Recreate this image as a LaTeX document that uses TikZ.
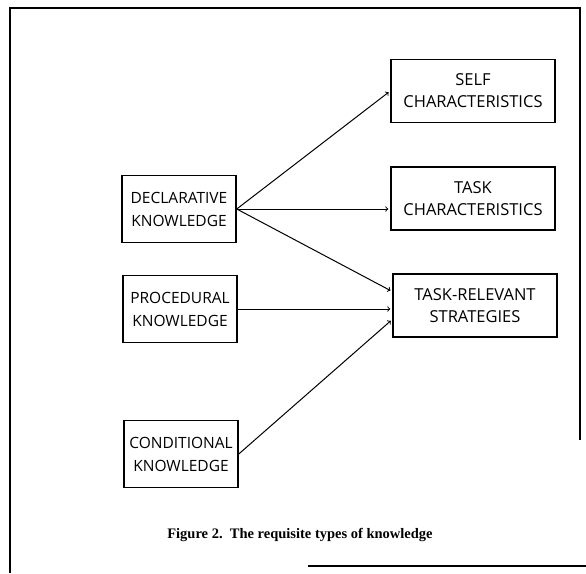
\documentclass[tikz,border=0pt]{standalone}
\usepackage{fontspec}
\setmainfont{Liberation Serif}
\newfontfamily\boxfont{Open Sans}
\usepackage{tikz}
\usetikzlibrary{shapes,arrows}
\tikzstyle{block} = [rectangle, draw, line width=1.5pt, font=\boxfont\fontsize{15.5}{23}\selectfont,
    text width=114pt, text centered, minimum height=67pt, inner sep=0pt]
\tikzstyle{wideblock} = [rectangle, draw, line width=1.5pt, font=\boxfont\fontsize{16.5}{22}\selectfont,
    text width=164pt, text centered, minimum height=63pt, inner sep=0pt]
\tikzstyle{arrow} = [draw, ->, line width=1pt, shorten >=2pt]
\tikzstyle{frame} = [draw, line width=1.8pt]

\begin{document}
\begin{tikzpicture}[x=1pt, y=1pt, node distance = 2cm, auto]
      \useasboundingbox (0,0) rectangle (586,-573);
      % outer frame
      \path [frame] (308,-566) -- (586,-566);
      \path [frame] (580,-440) -- (580,-8) -- (10,-8) -- (10,-573);

      % Place nodes
      \node [block] at (179,-209) (declarative) {DECLARATIVE\\KNOWLEDGE};
      \node [block, below of=declarative, node distance=100pt, xshift=1pt] (procedural) {PROCEDURAL\\KNOWLEDGE};
      \node [block, below of=procedural, node distance=145pt, xshift=1pt] (conditional) {CONDITIONAL\\KNOWLEDGE};

      \node [wideblock] at (473,-91) (selfChar) {SELF\\CHARACTERISTICS};
      \node [wideblock, below of=selfChar, node distance=107.5pt] (taskChar) {TASK\\CHARACTERISTICS};
      \node [wideblock, below of=taskChar, node distance=107pt, xshift=2pt] (strategies) {TASK-RELEVANT\\STRATEGIES};

      \node [font=\bfseries\fontsize{14.5}{16}\selectfont] at (300,-535) (caption) {Figure 2.\ \ The requisite types of knowledge};

      \path [arrow] (declarative.east) -- (selfChar.west);
      \path [arrow] (declarative.east) -- (declarative.east -| taskChar.west);
      \path [arrow] (declarative.east) -- ([yshift=14pt]strategies.west);
      \path [arrow] (procedural.east) -- (procedural.east -| strategies.west);
      \path [arrow] (conditional.east) -- ([yshift=-14pt]strategies.west);

  \end{tikzpicture}
\end{document}
